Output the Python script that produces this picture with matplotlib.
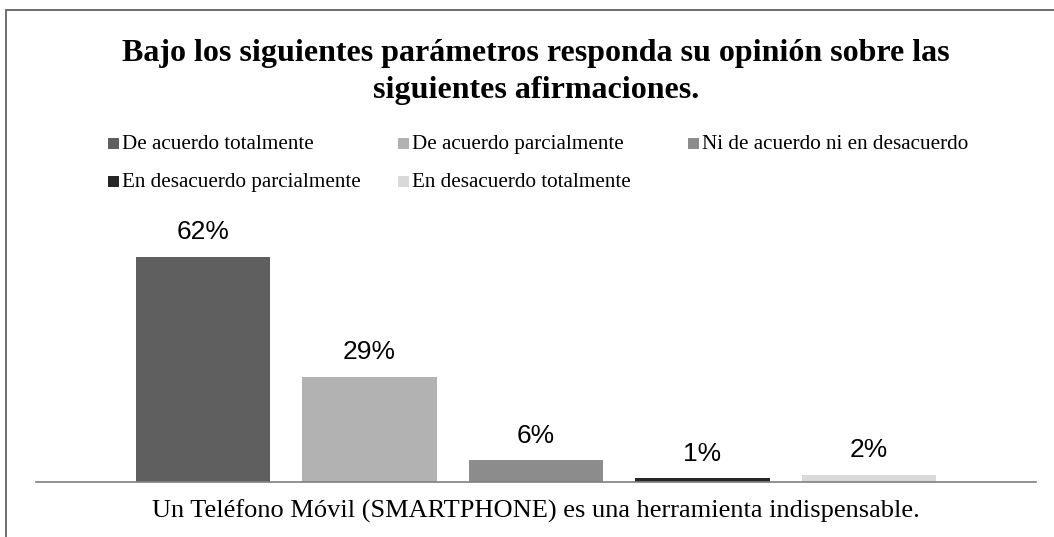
import matplotlib
matplotlib.use("Agg")
import matplotlib.pyplot as plt
from matplotlib.patches import Rectangle

categories = ["De acuerdo totalmente", "De acuerdo parcialmente",
              "Ni de acuerdo ni en desacuerdo", "En desacuerdo parcialmente",
              "En desacuerdo totalmente"]
values = [62, 29, 6, 1, 2]
labels = ["62%", "29%", "6%", "1%", "2%"]
colors = ["#5f5f5f", "#b2b2b2", "#8c8c8c", "#262626", "#d9d9d9"]
title = "Bajo los siguientes parámetros responda su opinión sobre las\nsiguientes afirmaciones."
xlabel = "Un Teléfono Móvil (SMARTPHONE) es una herramienta indispensable."

W, H = 1054, 537
fig = plt.figure(figsize=(W / 100, H / 100), dpi=100)
fig.patch.set_facecolor("white")

# outer border (left and top visible)
fig.patches.append(Rectangle((6 / W, -0.1), 1.2, (H - 10) / H + 0.1, transform=fig.transFigure,
                             fill=False, edgecolor="#555555", linewidth=1.2))

ax = fig.add_axes([36 / W, 55 / H, 1000 / W, 252 / H])
x = list(range(len(values)))
ax.bar(x, values, width=0.805, color=colors)
for xi, v, lab in zip(x, values, labels):
    ax.annotate(lab, (xi, v), xytext=(0, 9), textcoords="offset points",
                ha="center", va="bottom", fontsize=19, family="Liberation Sans", color="black")
ax.set_xlim(2 - 3.003, 2 + 3.003)
ax.set_ylim(0, 69.4)
for s in ["top", "left", "right"]:
    ax.spines[s].set_visible(False)
ax.spines["bottom"].set_color("#7f7f7f")
ax.spines["bottom"].set_linewidth(1.2)
ax.set_xticks([])
ax.set_yticks([])

fig.text(536 / W, 1 - 72 / H, title, ha="center", va="center", fontsize=23,
         fontweight="bold", family="Liberation Serif", linespacing=1.32)

# legend, laid out manually in rows
leg_pos = [(108, 143.5), (398, 143.5), (688, 143.5), (108, 181.5), (398, 181.5)]
for (lx, ly), name, c in zip(leg_pos, categories, colors):
    fig.patches.append(Rectangle((lx / W, 1 - (ly + 5) / H), 10.5 / W, 10.5 / H,
                                 transform=fig.transFigure, facecolor=c, edgecolor="none"))
    fig.text((lx + 14) / W, 1 - (ly + 5.5) / H, name, ha="left", va="baseline", fontsize=15.2,
             family="Liberation Serif", color="black")

fig.text(536 / W, 1 - 511 / H, xlabel, ha="center", va="center", fontsize=19,
         family="Liberation Serif", color="black")

fig.savefig("out.png", dpi=100, facecolor="white")
